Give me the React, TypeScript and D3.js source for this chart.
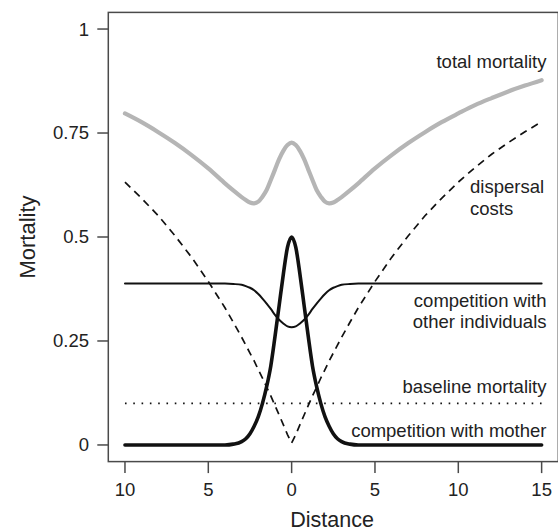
import React from "react";
import * as d3 from "d3";

// Distance from the mother (negative = left side, shown as absolute values)
const distance = [
  -10, -9, -8, -7, -6, -5, -4, -3.5, -3, -2.75, -2.5, -2.25, -2, -1.75, -1.5, -1.25, -1, -0.75, -0.5, -0.25,
  0,
  0.25, 0.5, 0.75, 1, 1.25, 1.5, 1.75, 2, 2.25, 2.5, 2.75, 3, 3.5, 4, 5, 6, 7, 8, 9, 10, 11, 12, 13, 14, 15,
];

const totalMortality = [
  0.797, 0.776, 0.752, 0.726, 0.697, 0.665, 0.629, 0.612, 0.596, 0.589, 0.583, 0.581, 0.585, 0.597, 0.613, 0.637, 0.662, 0.687, 0.707, 0.721,
  0.727,
  0.721, 0.707, 0.687, 0.662, 0.637, 0.613, 0.597, 0.585, 0.581, 0.583, 0.589, 0.596, 0.612, 0.629, 0.665, 0.697, 0.726, 0.752, 0.776, 0.797, 0.817, 0.834, 0.85, 0.864, 0.877,
];

const dispersalCosts = [
  0.632, 0.593, 0.551, 0.503, 0.451, 0.393, 0.33, 0.295, 0.259, 0.24, 0.221, 0.202, 0.181, 0.161, 0.139, 0.118, 0.095, 0.072, 0.049, 0.025,
  0.005,
  0.025, 0.049, 0.072, 0.095, 0.118, 0.139, 0.161, 0.181, 0.202, 0.221, 0.24, 0.259, 0.295, 0.33, 0.393, 0.451, 0.503, 0.551, 0.593, 0.632, 0.667, 0.699, 0.727, 0.753, 0.777,
];

const competitionOthers = [
  0.388, 0.388, 0.388, 0.388, 0.388, 0.388, 0.388, 0.387, 0.385, 0.382, 0.378, 0.372, 0.363, 0.352, 0.34, 0.327, 0.313, 0.301, 0.292, 0.285,
  0.283,
  0.285, 0.292, 0.301, 0.313, 0.327, 0.34, 0.352, 0.363, 0.372, 0.378, 0.382, 0.385, 0.387, 0.388, 0.388, 0.388, 0.388, 0.388, 0.388, 0.388, 0.388, 0.388, 0.388, 0.388, 0.388,
];

const competitionMother = [
  0, 0, 0, 0, 0, 0, 0, 0.002, 0.008, 0.015, 0.027, 0.045, 0.068, 0.1, 0.14, 0.19, 0.26, 0.335, 0.41, 0.475,
  0.5,
  0.475, 0.41, 0.335, 0.26, 0.19, 0.14, 0.1, 0.068, 0.045, 0.027, 0.015, 0.008, 0.002, 0, 0, 0, 0, 0, 0, 0, 0, 0, 0, 0, 0,
];

const baselineDistance = [-10, 15];
const baselineMortality = [0.1, 0.1];

const xTicks = [-10, -5, 0, 5, 10, 15];
const yTicks = [0, 0.25, 0.5, 0.75, 1];
const yTickLabels = ["0", "0.25", "0.5", "0.75", "1"];

const W = 558;
const H = 532;
const FONT = "'Liberation Sans', Arial, Helvetica, sans-serif";
const AXIS = "#4a4a4a";
const TEXT = "#222";

export default function App() {
  const x = d3.scaleLinear().domain([-11, 16]).range([108.3, 558.3]);
  const y = d3.scaleLinear().domain([-0.04, 1.04]).range([461.6, 12.4]);

  const pts = (ys: number[], xs: number[] = distance) => xs.map((d, i) => [d, ys[i]] as [number, number]);
  const lineWith = (curve: d3.CurveFactory) =>
    d3
      .line<[number, number]>()
      .x((d) => x(d[0]))
      .y((d) => y(d[1]))
      .curve(curve);
  const smooth = lineWith(d3.curveMonotoneX);
  const spline = lineWith(d3.curveCatmullRom.alpha(0.5));
  const straight = lineWith(d3.curveLinear);

  const [x0, x1] = x.range();
  const [y0, y1] = y.range();

  return (
    <svg
      width={W}
      height={H}
      viewBox={`0 0 ${W} ${H}`}
      style={{ position: "fixed", left: 0, top: 0, background: "#fff" }}
      fontFamily={FONT}
    >
      {/* plot frame */}
      <rect x={x0} y={y1} width={x1 - x0} height={y0 - y1} fill="none" stroke={AXIS} strokeWidth={1.5} />

      {/* y axis */}
      {yTicks.map((t, i) => (
        <g key={"y" + t}>
          <line x1={x0 - 11} x2={x0} y1={y(t)} y2={y(t)} stroke={AXIS} strokeWidth={1.5} />
          <text x={89} y={y(t)} dy="0.35em" textAnchor="end" fontSize={18.5} fill={TEXT}>
            {yTickLabels[i]}
          </text>
        </g>
      ))}

      {/* x axis */}
      {xTicks.map((t) => (
        <g key={"x" + t}>
          <line x1={x(t)} x2={x(t)} y1={y0} y2={y0 + 11.5} stroke={AXIS} strokeWidth={1.5} />
          <text x={x(t)} y={496} textAnchor="middle" fontSize={18.5} fill={TEXT}>
            {Math.abs(t)}
          </text>
        </g>
      ))}

      <text x={(x0 + 556) / 2} y={527} textAnchor="middle" fontSize={21.5} fill={TEXT}>
        Distance
      </text>
      <text
        transform={`translate(35, ${(y0 + y1) / 2}) rotate(-90)`}
        textAnchor="middle"
        fontSize={22}
        fill={TEXT}
      >
        Mortality
      </text>

      {/* curves */}
      <path d={spline(pts(totalMortality)) || ""} fill="none" stroke="#b5b5b5" strokeWidth={4.2} strokeLinecap="round" />
      <path
        d={straight(pts(dispersalCosts)) || ""}
        fill="none"
        stroke="#111"
        strokeWidth={1.7}
        strokeDasharray="7.5 5.5"
      />
      <path d={smooth(pts(competitionOthers)) || ""} fill="none" stroke="#111" strokeWidth={2} strokeLinecap="round" />
      <path
        d={straight(pts(baselineMortality, baselineDistance)) || ""}
        fill="none"
        stroke="#111"
        strokeWidth={1.6}
        strokeDasharray="1.6 6.7"
      />
      <path d={smooth(pts(competitionMother)) || ""} fill="none" stroke="#111" strokeWidth={3.6} strokeLinecap="round" />

      {/* curve labels */}
      <g fontSize={18.5} fill={TEXT}>
        <text x={546.5} y={68} textAnchor="end">total mortality</text>
        <text x={470} y={193}>dispersal</text>
        <text x={470} y={215}>costs</text>
        <text x={546.5} y={306.5} textAnchor="end">competition with</text>
        <text x={546.5} y={328} textAnchor="end">other individuals</text>
        <text x={546.5} y={393} textAnchor="end">baseline mortality</text>
        <text x={546.5} y={437} textAnchor="end">competition with mother</text>
      </g>
    </svg>
  );
}
